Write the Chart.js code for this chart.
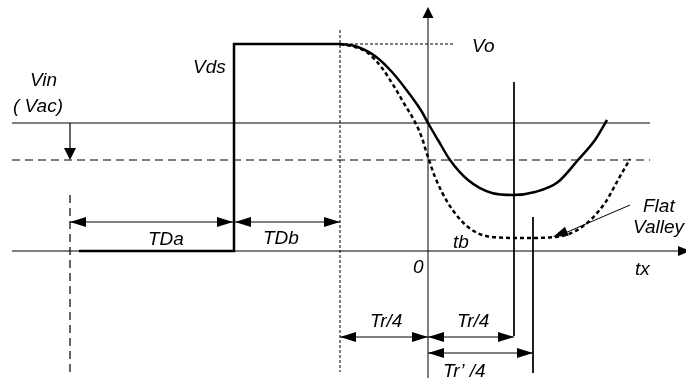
<!DOCTYPE html>
<html>
<head>
<meta charset="utf-8">
<script src="https://cdn.jsdelivr.net/npm/chart.js"></script>
<style>
html,body{margin:0;padding:0;background:#fff;}
#wrap{width:686px;height:378px;position:relative;}
</style>
</head>
<body>
<div id="wrap"><canvas id="myChart"></canvas></div>
<script>
// levels (y) and times (x) of the diagram, 0 at the axes crossing
var vo = 207, vinLevel = 128, vinLow = 91;
var tDa = -358, tStep = -194, tRes = -88, tr4 = 86, trp4 = 105;

// Vds before the resonance
var stepX = [-349, -194, -194, -88];
var stepY = [0, 0, 207, 207];

// resonant ring (solid) and flat valley ring (dotted)
var solidX = [-88, -73, -53, -36, -20, -6, 0, 10, 22, 40, 64, 85, 107, 130, 150, 167, 179];
var solidY = [207, 205, 195, 179, 159, 139, 128, 111, 91, 71, 58, 56, 59, 69, 91, 111, 131];
var dotX = [-88, -73, -60, -46, -33, -23, -13, -6, -2, 2, 7, 20, 40, 64, 97, 127, 154, 177, 190, 202];
var dotY = [207, 204, 198, 183, 163, 146, 129, 113, 100, 88, 74, 48, 24, 14, 13, 14, 24, 48, 71, 92];

// dimension arrows
var dimFrom = [-358, -193, -88, 0, 0];
var dimTo = [-195, -88, 0, 86, 105];
var dimAt = [29, 29, -86, -86, -102];

// labels
var labelText = ["Vin", "( Vac)", "Vds", "Vo", "TDa", "TDb", "tb", "0", "tx", "Flat", "Valley", "Tr/4", "Tr/4", "Tr\u2019 /4"];
var labelX = [-398, -415, -235, 44, -280, -165, 25, -15, 207, 215, 205, -58, 29, 15];
var labelY = [165, 139, 178, 199, 6, 7, 3, -22, -24, 39, 18, -76, -76, -126];

function pts(xs, ys) {
  var out = [];
  for (var i = 0; i < xs.length; i++) out.push({x: xs[i], y: ys[i]});
  return out;
}
function seg(x1, y1, x2, y2, w, dash) {
  return {data: [{x: x1, y: y1}, {x: x2, y: y2}], showLine: true, pointRadius: 0,
    borderColor: "#000", borderWidth: w || 1, borderDash: dash || [], fill: false};
}

var datasets = [
  seg(-416, vinLevel, 222, vinLevel, 1),
  seg(-416, vinLow, 222, vinLow, 1.2, [8, 5]),
  seg(-416, 0, 258, 0, 1),
  seg(0, -127, 0, 236, 1),
  seg(tRes, 221, tRes, -121, 1, [3, 2]),
  seg(tRes, vo, 27, vo, 1, [3, 2]),
  seg(tr4, 169, tr4, -85, 1),
  seg(trp4, 34, trp4, -122, 1),
  seg(tDa, 56, tDa, -121, 1.2, [8, 5]),
  seg(tDa, vinLevel, tDa, vinLow + 10, 1.2),
  seg(202, 46, 130, 15, 1),
  {data: pts(stepX, stepY), showLine: true, pointRadius: 0, borderColor: "#000", borderWidth: 2.5, tension: 0},
  {data: pts(solidX, solidY), showLine: true, pointRadius: 0, borderColor: "#000", borderWidth: 2.5,
    cubicInterpolationMode: "monotone"},
  {data: pts(dotX, dotY), showLine: true, pointRadius: 0, borderColor: "#000", borderWidth: 2.5,
    borderDash: [4, 3], cubicInterpolationMode: "monotone"}
];
for (var i = 0; i < dimFrom.length; i++) datasets.push(seg(dimFrom[i], dimAt[i], dimTo[i], dimAt[i], 1));

function head(ctx, tx, ty, fx, fy, len, half) {
  var a = Math.atan2(ty - fy, tx - fx);
  ctx.beginPath();
  ctx.moveTo(tx, ty);
  ctx.lineTo(tx - len * Math.cos(a) + half * Math.sin(a), ty - len * Math.sin(a) - half * Math.cos(a));
  ctx.lineTo(tx - len * Math.cos(a) - half * Math.sin(a), ty - len * Math.sin(a) + half * Math.cos(a));
  ctx.closePath();
  ctx.fill();
}

var extras = {
  id: "extras",
  afterDatasetsDraw: function(chart) {
    var ctx = chart.ctx, sx = chart.scales.x, sy = chart.scales.y;
    var X = function(v) { return sx.getPixelForValue(v); };
    var Y = function(v) { return sy.getPixelForValue(v); };
    ctx.save();
    ctx.fillStyle = "#000";
    // axis arrows
    head(ctx, X(0), Y(244), X(0), Y(0), 11, 5.5);
    head(ctx, X(262), Y(0), X(0), Y(0), 12, 5);
    // Vin drop arrow
    head(ctx, X(tDa), Y(vinLow), X(tDa), Y(vinLevel), 12, 6);
    // flat valley pointer
    head(ctx, X(125), Y(14), X(202), Y(46), 15, 5);
    // dimension arrows
    for (var i = 0; i < dimFrom.length; i++) {
      head(ctx, X(dimFrom[i]), Y(dimAt[i]), X(dimTo[i]), Y(dimAt[i]), 16, 5);
      head(ctx, X(dimTo[i]), Y(dimAt[i]), X(dimFrom[i]), Y(dimAt[i]), 16, 5);
    }
    ctx.font = "italic 19px 'Liberation Sans', Arial, sans-serif";
    ctx.textAlign = "left";
    ctx.textBaseline = "alphabetic";
    for (var j = 0; j < labelText.length; j++) {
      ctx.fillText(labelText[j], X(labelX[j]), Y(labelY[j]));
    }
    ctx.restore();
  }
};

new Chart("myChart", {
  type: "scatter",
  data: {datasets: datasets},
  options: {
    responsive: true,
    maintainAspectRatio: false,
    animation: false,
    layout: {padding: 0},
    plugins: {legend: {display: false}, tooltip: {enabled: false}},
    scales: {
      x: {type: "linear", min: -428, max: 258, display: false},
      y: {type: "linear", min: -127, max: 251, display: false}
    }
  },
  plugins: [extras]
});
</script>
</body>
</html>
